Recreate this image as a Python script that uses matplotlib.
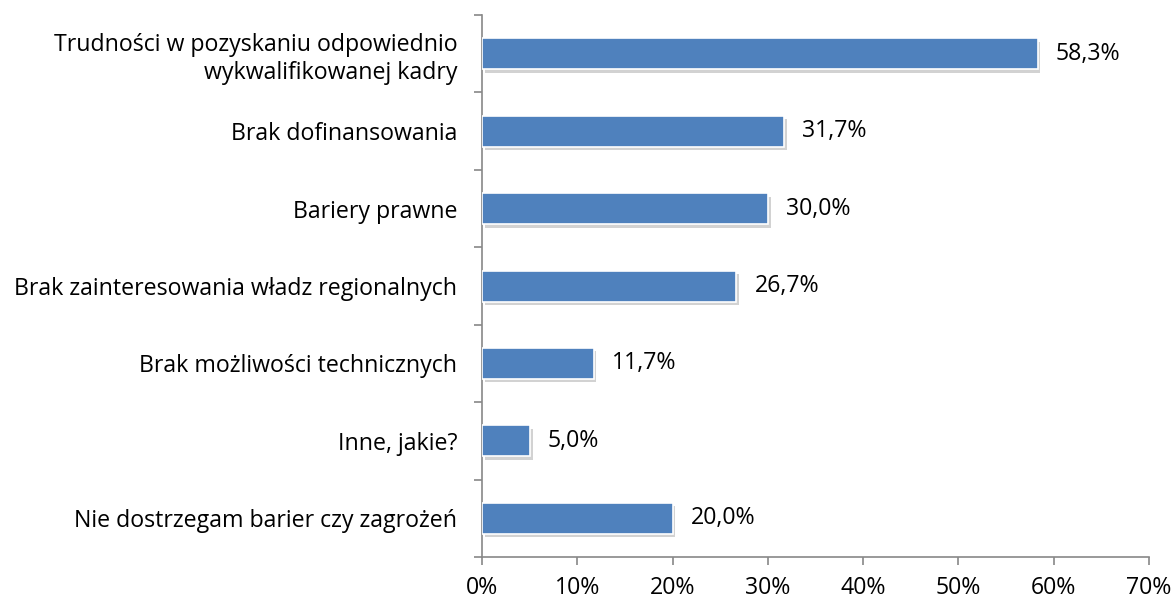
import matplotlib
matplotlib.use("Agg")
import matplotlib.pyplot as plt
import matplotlib.patheffects as pe
import numpy as np

categories = [
    "Trudności w pozyskaniu odpowiednio\nwykwalifikowanej kadry",
    "Brak dofinansowania",
    "Bariery prawne",
    "Brak zainteresowania władz regionalnych",
    "Brak możliwości technicznych",
    "Inne, jakie?",
    "Nie dostrzegam barier czy zagrożeń",
]
values = [58.3, 31.7, 30.0, 26.7, 11.7, 5.0, 20.0]
xticks = [0, 10, 20, 30, 40, 50, 60, 70]

plt.rcParams['font.family'] = ['Open Sans', 'DejaVu Sans']
FS = 16.7

fig = plt.figure(figsize=(11.76, 6.03), dpi=100)
ax = fig.add_axes([0.41, 0.0763, 0.977 - 0.41, 0.975 - 0.0763])

n = len(categories)
y = np.arange(n)[::-1]
bars = ax.barh(y, values, height=0.40, color="#4F81BD", edgecolor="white", linewidth=1.2, zorder=3)
for b in bars:
    b.set_path_effects([pe.SimplePatchShadow(offset=(2, -2.5), shadow_rgbFace="gray", alpha=0.35), pe.Normal()])

for yi, v in zip(y, values):
    ax.text(v + 1.9, yi, f"{v:.1f}%".replace(".", ","), va="center", ha="left", fontsize=FS)

ax.set_xlim(0, 70)
ax.set_ylim(-0.5, n - 0.5)
ax.set_xticks(xticks)
ax.set_xticklabels([f"{t}%" for t in xticks], fontsize=FS)
ax.set_yticks(y)
ax.set_yticklabels(categories, fontsize=FS, linespacing=1.22)
ax.set_yticks(np.arange(-0.5, n, 1.0), minor=True)
ax.tick_params(axis="y", which="major", length=0, pad=18)
ax.tick_params(axis="y", which="minor", length=6, color="#888888", width=1.2)
ax.tick_params(axis="x", which="major", length=6, color="#888888", width=1.2, pad=8)

for s in ["top", "right"]:
    ax.spines[s].set_visible(False)
for s in ["left", "bottom"]:
    ax.spines[s].set_color("#888888")
    ax.spines[s].set_linewidth(1.2)

fig.savefig("out.png", dpi=100)
